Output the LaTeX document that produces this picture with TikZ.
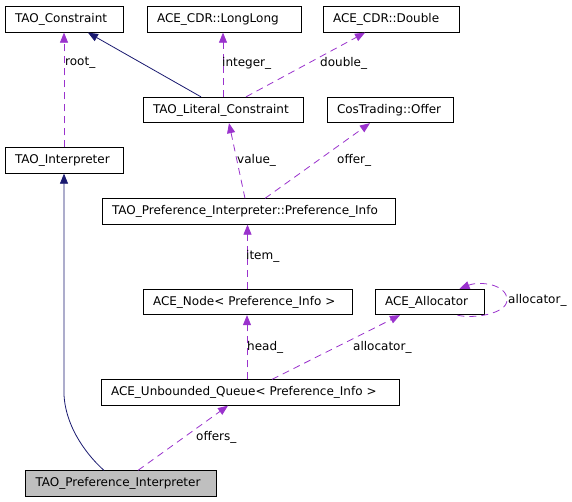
\documentclass[tikz,border=0pt]{standalone}
\usepackage{fontspec}
\setmainfont{DejaVu Sans}
\usetikzlibrary{arrows.meta}
\definecolor{inh}{HTML}{191970}
\definecolor{usec}{HTML}{9A32CD}
\definecolor{tgray}{HTML}{BFBFBF}
\begin{document}
\begin{tikzpicture}[x=1pt,y=-1pt,
  box/.style={draw=black, line width=0.8pt, minimum height=25.5pt, inner xsep=10pt, inner ysep=0pt, align=left, font=\fontsize{12}{14}\selectfont},
  inhe/.style={draw=inh, line width=0.8pt, -{Triangle[length=10pt,width=8pt]}},
  usee/.style={draw=usec, line width=0.8pt, dash pattern=on 7pt off 5pt, -{Triangle[length=10pt,width=8pt]}},
  lbl/.style={anchor=west, inner sep=0pt, font=\fontsize{12}{14}\selectfont}]
\useasboundingbox (0,0) rectangle (572,501);
\fill[white] (0,0) rectangle (572,501);

\node[box, text width=98pt]  (con)    at (64,19.5)    {TAO\_Constraint};
\node[box, text width=134pt] (ll)     at (224,19.5)   {ACE\_CDR::LongLong};
\node[box, text width=116pt] (dbl)    at (391,19.5)   {ACE\_CDR::Double};
\node[box, text width=140pt] (lit)    at (223,110)    {TAO\_Literal\_Constraint};
\node[box, text width=106pt] (offer)  at (390,110)    {CosTrading::Offer};
\node[box, text width=98pt]  (interp) at (64,160.5)   {TAO\_Interpreter};
\node[box, text width=273pt] (pinfo)  at (248.5,211.5) {TAO\_Preference\_Interpreter::Preference\_Info};
\node[box, text width=189pt] (nodeb)  at (247.5,302)  {ACE\_Node< Preference\_Info >};
\node[box, text width=89pt]  (alloc)  at (429.5,302)  {ACE\_Allocator};
\node[box, text width=278pt] (queue)  at (250,392.5)  {ACE\_Unbounded\_Queue< Preference\_Info >};
\node[box, text width=171pt, fill=tgray] (tpi) at (121,483.5) {TAO\_Preference\_Interpreter};

% inheritance
\draw[inhe] ([xshift=-22pt]lit.north) -- ([xshift=24pt]con.south);
\coordinate (bendI) at (64,395);
\draw[inhe] ([xshift=-17pt]tpi.north) .. controls (90,458) and (66,430) .. (bendI) -- (interp.south);

% usage
\draw[usee] (interp.north) -- (con.south);
\draw[usee] (lit.north) -- (lit.north |- ll.south);
\draw[usee] ([xshift=23pt]lit.north) -- ([xshift=-26pt]dbl.south);
\draw[usee] ([xshift=-3.5pt]pinfo.north) -- ([xshift=6pt]lit.south);
\draw[usee] ([xshift=16.5pt]pinfo.north) -- ([xshift=-20pt]offer.south);
\draw[usee] (nodeb.north) -- (nodeb.north |- pinfo.south);
\draw[usee] ([xshift=-3pt]queue.north) -- ([xshift=-3pt]queue.north |- nodeb.south);
\draw[usee] ([xshift=22pt]queue.north) -- ([xshift=-29.5pt]alloc.south);
\coordinate (loopR) at (507,300);
\draw[usee] ([xshift=28pt]alloc.south) .. controls +(15,4) and +(0,14) .. (loopR) .. controls +(0,-16) and +(20,-8) .. ([xshift=30pt]alloc.north);
\draw[usee] ([xshift=17pt]tpi.north) -- ([xshift=-22pt]queue.south);

% labels
\node[lbl] (l1) at (65,63) {root\_};
\node[lbl] (l2) at (222,63) {integer\_};
\node[lbl] (l3) at (320,63) {double\_};
\node[lbl] (l4) at (237,160) {value\_};
\node[lbl] (l5) at (337,160) {offer\_};
\node[lbl] (l6) at (246,256) {item\_};
\node[lbl] (l7) at (247,347) {head\_};
\node[lbl] (l8) at (353,347) {allocator\_};
\node[lbl] (l9) at (508,300) {allocator\_};
\node[lbl] (l10) at (196,437) {offers\_};
\end{tikzpicture}
\end{document}
